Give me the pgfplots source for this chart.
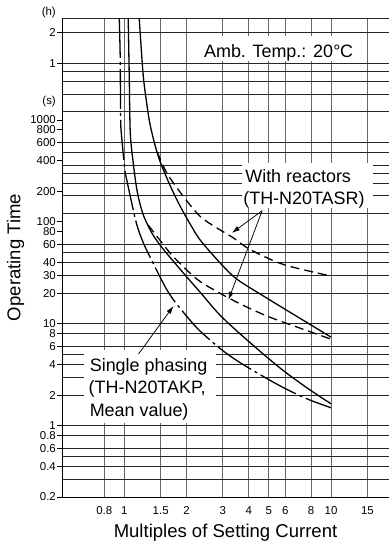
\documentclass[border=0pt]{standalone}
\usepackage{fontspec}
\setmainfont{Liberation Sans}
\usepackage{pgfplots}
\pgfplotsset{compat=1.18}
\usetikzlibrary{arrows.meta}
\newcommand{\tickfont}{\fontsize{11.5}{13}\selectfont}
\newcommand{\labfont}{\fontsize{18}{22}\selectfont}
\newcommand{\axlabfont}{\fontsize{18.6}{22}\selectfont}
\begin{document}
\begin{tikzpicture}
\useasboundingbox (0,0) rectangle (389bp,545bp);
\begin{axis}[
  at={(62bp,48bp)}, anchor=south west,
  scale only axis, width=327bp, height=479bp,
  xmode=log, ymode=log,
  xmin=0.5, xmax=19.06, ymin=0.2, ymax=10000,
  axis x line*=bottom, axis y line*=left,
  axis line style={black, line width=0.9bp},
  xtick={0.8,1,1.5,2,3,4,5,6,8,10,15},
  xticklabels={0.8,1,1.5,2,3,4,5,6,8,10,15},
  ytick={0.2,0.4,0.6,0.8,1,2,4,6,8,10,20,30,40,60,80,100,200,400,600,800,1000,3600,7200},
  yticklabels={0.2,0.4,0.6,0.8,1,2,4,6,8,10,20,30,40,60,80,100,200,400,600,800,1000,1,2},
  minor ytick={0.3,0.4,0.5,0.6,0.8,1,2,3,4,5,6,8,10,20,30,40,50,60,120,180,240,300,360,480,600,1200,1800,2400,3000,3600,7200,10000},
  xmajorgrids, yminorgrids,
  major x grid style={black!60, line width=0.9bp},
  minor y grid style={black!85, line width=0.8bp},
  tick align=outside,
  major tick length=5bp, minor tick length=0pt,
  xtick style={draw=none},
  ytick style={black, line width=0.8bp},
  xticklabel style={font=\tickfont, inner ysep=1bp, yshift=-3bp},
  yticklabel style={font=\tickfont, inner sep=0pt, xshift=-1bp},
  xlabel={Multiples of Setting Current},
  xlabel style={font=\axlabfont, at={(axis description cs:0.5,0)}, anchor=base, yshift=-40bp},
  ylabel={Operating Time},
  ylabel style={font=\axlabfont, at={(axis description cs:-0.1422,0.5)}, anchor=center},
  clip mode=individual,
]
% white label boxes
\fill[white] (axis cs:2.278,3800) rectangle (axis cs:14.93,6700);
\fill[white] (axis cs:3.715,137.6) rectangle (axis cs:15.95,378.6);
\fill[white] (axis cs:0.641,1.07) rectangle (axis cs:2.783,5.52);

% single phasing (dash-dot)
\addplot[black, line width=1.3bp, smooth, dash pattern=on 40bp off 4bp on 3bp off 4bp] coordinates {
(0.946,10000) (0.956,4013) (0.960,1114) (0.967,760) (1.011,302) (1.045,221) (1.143,98.2) (1.235,62.6) (1.381,39.1) (1.493,28.5) (1.613,21.3) (1.764,16.3) (2.084,10.8) (2.329,8.47) (2.814,6.04) (3.252,4.83) (3.929,3.77) (5.670,2.46) (7.656,1.835) (10,1.50)};
% solid lower
\addplot[black, line width=1.3bp, smooth] coordinates {
(1.045,10000) (1.057,2738) (1.069,760) (1.105,379) (1.156,197) (1.235,117.6) (1.365,76.7) (1.509,57.3) (1.668,44.7) (2.015,28.5) (2.329,20.4) (2.910,12.1) (3.929,6.92) (5.670,3.68) (7.656,2.35) (10,1.64)};
% solid upper
\addplot[black, line width=1.3bp, smooth] coordinates {
(1.181,10000) (1.235,2738) (1.292,1334) (1.335,889) (1.412,555) (1.493,387) (1.668,226) (1.865,142) (2.084,95) (2.329,66.3) (2.910,39.5) (3.515,27.3) (4.908,17.8) (7.085,11.3) (10,7.40)};
% with reactors lower (dashed)
\addplot[black, line width=1.3bp, smooth, dash pattern=on 9bp off 5bp] coordinates {
(1.306,92.9) (1.493,65.5) (1.724,45.7) (2.253,27.3) (2.910,19.9) (3.634,15.7) (4.908,11.9) (7.085,9.06) (10,7.07)};
% with reactors upper (dashed)
\addplot[black, line width=1.3bp, smooth, dash pattern=on 9bp off 5bp] coordinates {
(1.444,485) (1.608,300) (1.934,177) (2.329,113) (2.804,87.2) (3.373,69.6) (4.061,53.5) (5.884,38.2) (10,29.4)};

% texts
\node[anchor=base, inner sep=0, font=\labfont] at (axis cs:5.577,4132) {Amb. Temp.: 20\kern0.5bp°\kern-0.5bp C};
\node[anchor=base west, inner sep=0, font=\labfont] at (axis cs:3.842,241.4) {With reactors};
\node[anchor=base west, inner sep=0, font=\labfont] at (axis cs:3.757,148.9) {(TH-N20TASR)};
\node[anchor=base west, inner sep=0, font=\labfont] at (axis cs:0.680,3.39) {Single phasing};
\node[anchor=base west, inner sep=0, font=\labfont] at (axis cs:0.672,2.086) {(TH-N20TAKP,};
\node[anchor=base west, inner sep=0, font=\labfont] at (axis cs:0.680,1.244) {Mean value)};
\node[anchor=east, inner sep=0, font=\tickfont, xshift=-6bp] at (axis cs:0.5,1504) {(s)};
\node[anchor=east, inner sep=0, font=\tickfont, xshift=-6bp] at (axis cs:0.5,11236) {(h)};

% arrows
\draw[-{Latex[length=8bp,width=5bp]}, line width=0.75bp] (axis cs:4.642,128.6) -- (axis cs:3.313,77.9);
\draw[-{Latex[length=8bp,width=5bp]}, line width=0.75bp] (axis cs:4.642,128.6) -- (axis cs:3.19,17.2);
\draw[-{Latex[length=8bp,width=5bp]}, line width=0.75bp] (axis cs:1.172,5.05) -- (axis cs:1.730,14.95);
\end{axis}
\end{tikzpicture}
\end{document}
